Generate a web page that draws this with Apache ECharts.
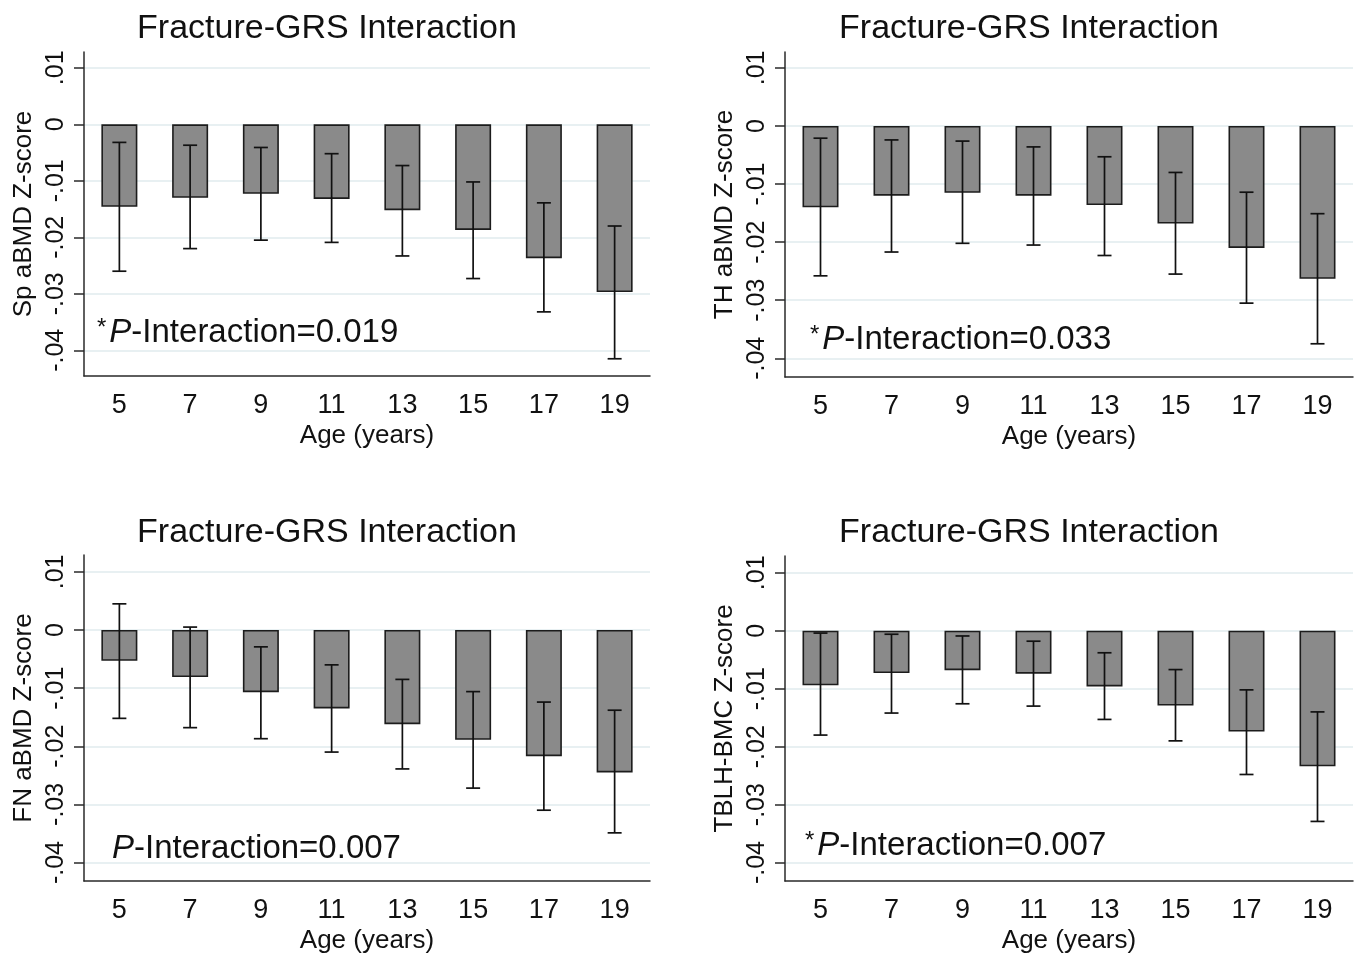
<!DOCTYPE html>
<html>
<head>
<meta charset="utf-8">
<title>Fracture-GRS Interaction</title>
<script src="https://cdn.jsdelivr.net/npm/echarts@6/dist/echarts.min.js"></script>
<style>
  html, body { margin: 0; padding: 0; background: #fff; }
  #chart { width: 1360px; height: 958px; }
</style>
</head>
<body>
<div id="chart"></div>
<script>
// ages on the x axis
var ages = ['5', '7', '9', '11', '13', '15', '17', '19'];
var yTicks = [0.01, 0, -0.01, -0.02, -0.03, -0.04];

// Sp aBMD
var spMean = [-0.0146, -0.0130, -0.0123, -0.0132, -0.0152, -0.0187, -0.0237, -0.0297];
var spLow  = [-0.0260, -0.0220, -0.0205, -0.0209, -0.0233, -0.0273, -0.0332, -0.0415];
var spHigh = [-0.0032, -0.0037, -0.0041, -0.0052, -0.0073, -0.0102, -0.0139, -0.0180];

// TH aBMD
var thMean = [-0.0140, -0.0120, -0.0115, -0.0120, -0.0136, -0.0168, -0.0210, -0.0263];
var thLow  = [-0.0258, -0.0217, -0.0202, -0.0205, -0.0223, -0.0255, -0.0305, -0.0375];
var thHigh = [-0.0021, -0.0024, -0.0026, -0.0036, -0.0053, -0.0080, -0.0114, -0.0151];

// FN aBMD
var fnMean = [-0.0053, -0.0081, -0.0107, -0.0135, -0.0162, -0.0189, -0.0217, -0.0245];
var fnLow  = [-0.0152, -0.0168, -0.0187, -0.0210, -0.0239, -0.0272, -0.0310, -0.0349];
var fnHigh = [0.0045, 0.0005, -0.0029, -0.0060, -0.0085, -0.0106, -0.0124, -0.0138];

// TBLH-BMC
var tbMean = [-0.0094, -0.0073, -0.0068, -0.0074, -0.0096, -0.0129, -0.0174, -0.0234];
var tbLow  = [-0.0180, -0.0142, -0.0126, -0.0130, -0.0153, -0.0190, -0.0248, -0.0329];
var tbHigh = [-0.0004, -0.0006, -0.0009, -0.0018, -0.0038, -0.0067, -0.0102, -0.0140];

var panelTitle = 'Fracture-GRS Interaction';
var yNames = ['Sp aBMD Z-score', 'TH aBMD Z-score', 'FN aBMD Z-score', 'TBLH-BMC Z-score'];
var pValues = ['0.019', '0.033', '0.007', '0.007'];
var starred = [true, true, false, true];

var panels = [
  { mean: spMean, low: spLow, high: spHigh },
  { mean: thMean, low: thLow, high: thHigh },
  { mean: fnMean, low: fnLow, high: fnHigh },
  { mean: tbMean, low: tbLow, high: tbHigh }
];

// layout of each panel (pixels and axis extents)
var layout = [
  { grid: { left: 84,  top: 52,  width: 566, height: 324 }, yMin: -0.04455, yMax: 0.0128,  titleX: 327,  titleY: 12,  noteX: 97,  noteY: 333 },
  { grid: { left: 785, top: 52,  width: 568, height: 325 }, yMin: -0.04322, yMax: 0.01274, titleX: 1029, titleY: 12,  noteX: 810, noteY: 340 },
  { grid: { left: 84,  top: 555, width: 566, height: 326 }, yMin: -0.04318, yMax: 0.0129,  titleX: 327,  titleY: 516, noteX: 112, noteY: 849 },
  { grid: { left: 785, top: 556, width: 568, height: 325 }, yMin: -0.04318, yMax: 0.0129,  titleX: 1029, titleY: 516, noteX: 805, noteY: 846 }
];

var FONT = '"Liberation Sans", Arial, Helvetica, sans-serif';
var axisColor = '#2a2a2a';

function fmtTick(v) {
  if (Math.abs(v) < 1e-9) return '0';
  return (v < 0 ? '-' : '') + Math.abs(v).toFixed(2).replace(/^0/, '');
}

function renderErr(params, api) {
  var lo = api.coord([api.value(0), api.value(1)]);
  var hi = api.coord([api.value(0), api.value(2)]);
  var cap = 7;
  var st = { stroke: '#111', lineWidth: 1.7 };
  return {
    type: 'group',
    children: [
      { type: 'line', shape: { x1: lo[0], y1: lo[1], x2: hi[0], y2: hi[1] }, style: st },
      { type: 'line', shape: { x1: lo[0] - cap, y1: lo[1], x2: lo[0] + cap, y2: lo[1] }, style: st },
      { type: 'line', shape: { x1: hi[0] - cap, y1: hi[1], x2: hi[0] + cap, y2: hi[1] }, style: st }
    ]
  };
}

var titles = [], grids = [], xAxes = [], yAxes = [], series = [], graphics = [];

panels.forEach(function (p, i) {
  var L = layout[i];
  titles.push({
    text: panelTitle,
    left: L.titleX, top: L.titleY, textAlign: 'center', padding: 0,
    textStyle: { fontFamily: FONT, fontSize: 34, fontWeight: 'normal', color: '#111' }
  });
  grids.push(L.grid);
  xAxes.push({
    type: 'category', gridIndex: i, data: ages,
    name: 'Age (years)', nameLocation: 'middle', nameGap: 47,
    nameTextStyle: { fontFamily: FONT, fontSize: 26, color: '#111' },
    axisLine: { onZero: false, lineStyle: { color: axisColor, width: 1.5 } },
    axisTick: { alignWithLabel: true, length: 10, lineStyle: { color: axisColor, width: 1.5 } },
    axisLabel: { fontFamily: FONT, fontSize: 27, color: '#111', margin: 16 },
    splitLine: { show: false }
  });
  yAxes.push({
    type: 'value', gridIndex: i, min: L.yMin, max: L.yMax,
    name: yNames[i], nameLocation: 'middle', nameGap: 47, nameRotate: 90,
    nameTextStyle: { fontFamily: FONT, fontSize: 26, color: '#111' },
    axisLine: { show: true, lineStyle: { color: axisColor, width: 1.5 } },
    axisTick: { show: true, length: 10, customValues: yTicks, lineStyle: { color: axisColor, width: 1.5 } },
    axisLabel: { customValues: yTicks, rotate: 90, fontFamily: FONT, fontSize: 25, color: '#111', margin: 15, formatter: fmtTick },
    splitLine: { show: true, lineStyle: { color: '#e0ebee', width: 1.5 } }
  });
  series.push({
    type: 'bar', xAxisIndex: i, yAxisIndex: i, data: p.mean, barWidth: 36,
    itemStyle: { color: '#8a8a8a', borderColor: '#1c1c1c', borderWidth: 1.6 },
    z: 2
  });
  series.push({
    type: 'custom', xAxisIndex: i, yAxisIndex: i, renderItem: renderErr,
    data: p.mean.map(function (m, k) { return [k, p.low[k], p.high[k]]; }),
    z: 3
  });
  graphics.push({
    type: 'text', x: L.noteX, y: L.noteY, z: 10,
    style: {
      text: (starred[i] ? '{s|*}' : '') + '{p|P}{t|-Interaction=' + pValues[i] + '}',
      verticalAlign: 'middle', align: 'left',
      rich: {
        s: { fontFamily: FONT, fontSize: 24, fill: '#111', verticalAlign: 'top', padding: [0, 3, 10, 0] },
        p: { fontFamily: FONT, fontSize: 33, fontStyle: 'italic', fill: '#111' },
        t: { fontFamily: FONT, fontSize: 33, fill: '#111' }
      }
    }
  });
});

var chart = echarts.init(document.getElementById('chart'));
chart.setOption({
  backgroundColor: '#fff',
  animation: false,
  title: titles,
  grid: grids,
  xAxis: xAxes,
  yAxis: yAxes,
  series: series,
  graphic: graphics
});
</script>
</body>
</html>
